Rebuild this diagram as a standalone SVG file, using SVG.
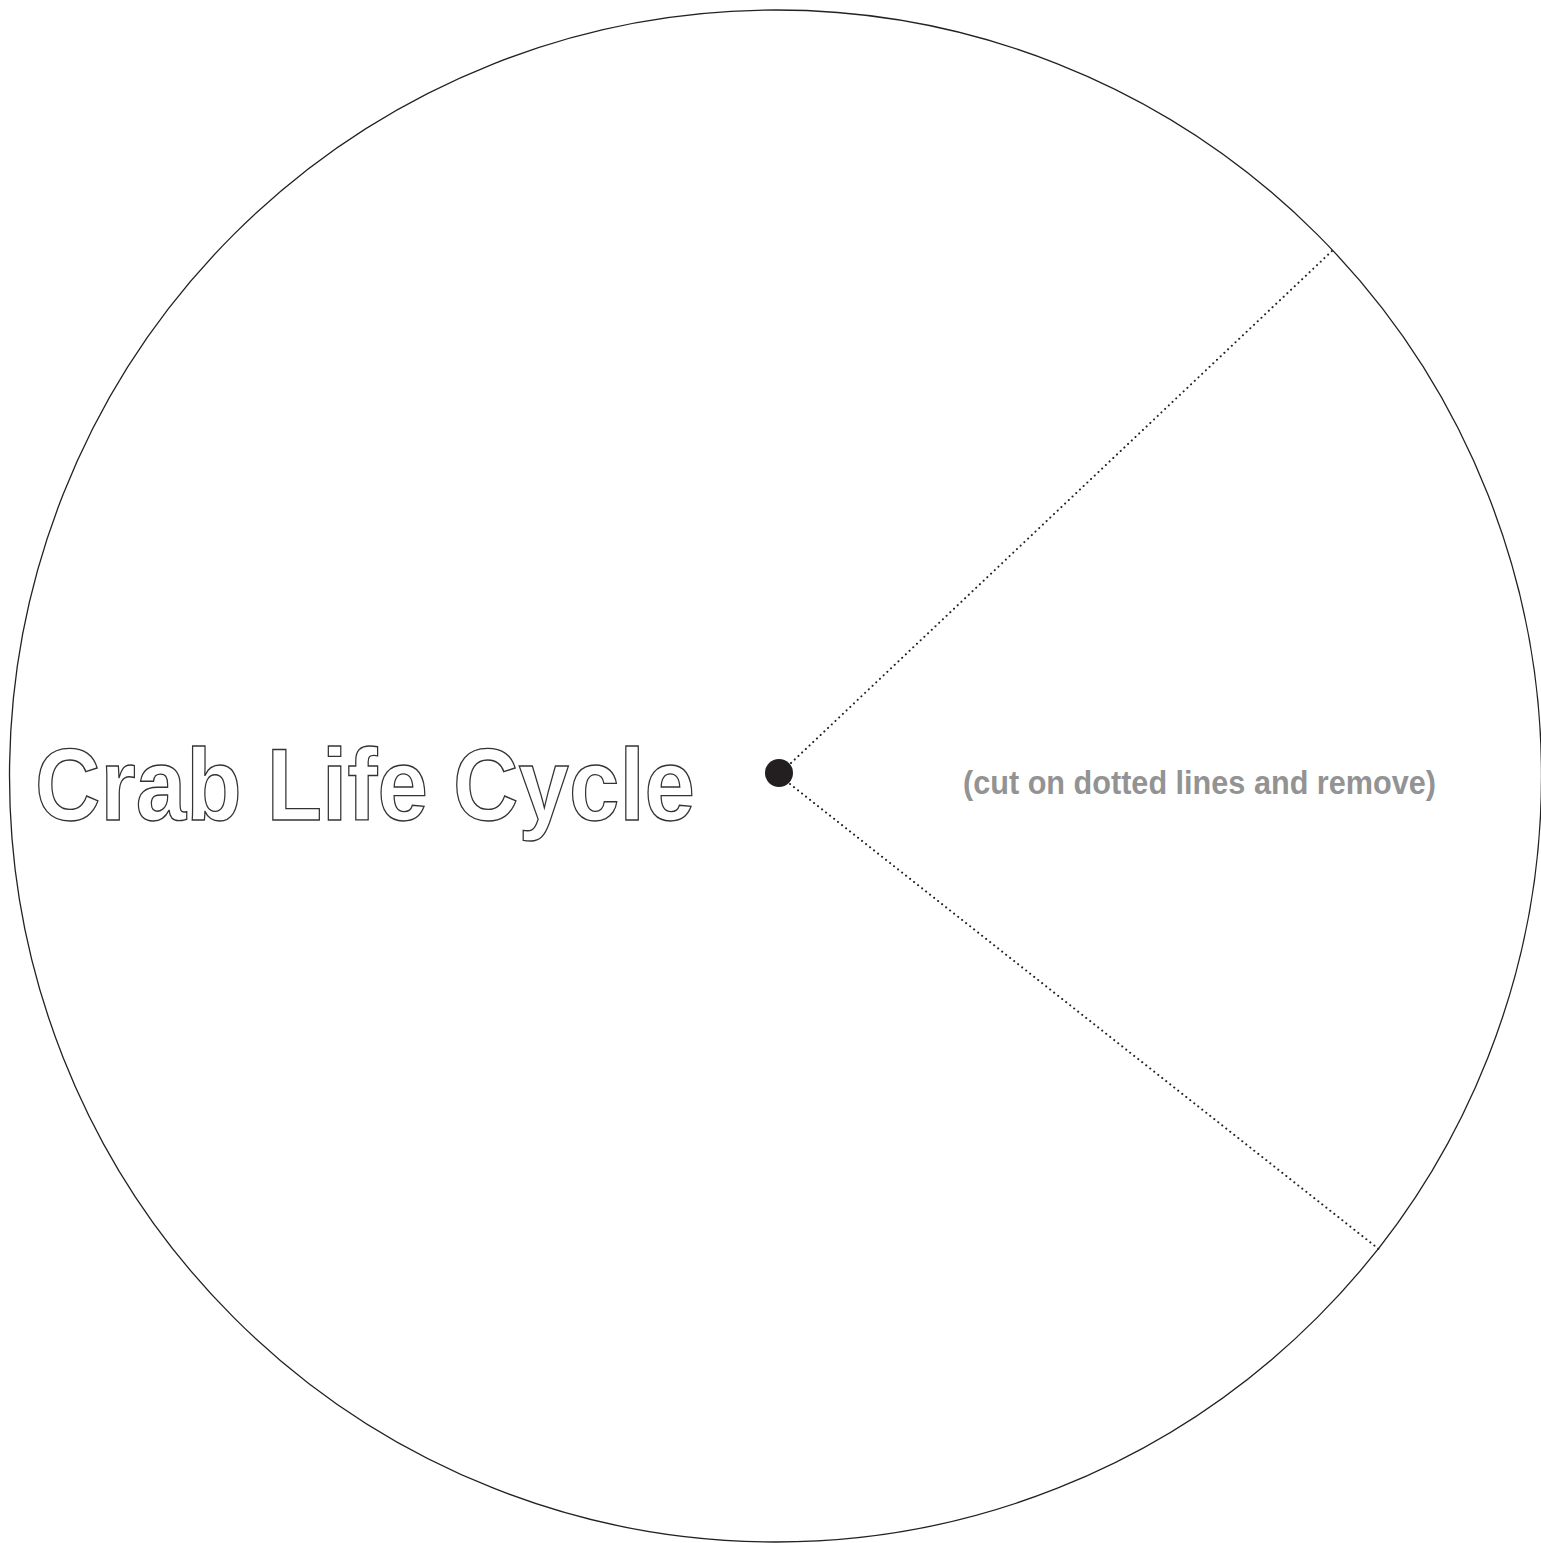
<svg xmlns="http://www.w3.org/2000/svg" width="1541" height="1543" viewBox="0 0 1541 1543">
<style>
.cut{stroke:#222;stroke-width:2;stroke-dasharray:0.1 5;stroke-linecap:round;fill:none}
.title{font-family:"Liberation Sans",Arial,sans-serif;font-size:102px;font-weight:bold;fill:#fff;stroke:#333;stroke-width:1.4}
.note{font-family:"Liberation Sans",Arial,sans-serif;font-size:34px;font-weight:bold;fill:#939393}
</style>
<rect width="1541" height="1543" fill="#fff"/>
<g id="wheel">
<circle cx="775.5" cy="776" r="766" fill="none" stroke="#222" stroke-width="1.3"/>
</g>
<g id="connectors">
<line class="cut" x1="791" y1="763" x2="1333" y2="250"/>
<line class="cut" x1="790" y1="784" x2="1380" y2="1250"/>
</g>
<g id="center">
<circle cx="779" cy="773" r="14" fill="#231f20"/>
</g>
<g id="title">
<text class="title" x="35" y="820" textLength="660" lengthAdjust="spacingAndGlyphs">Crab Life Cycle</text>
</g>
<g id="note">
<text class="note" x="963" y="794" textLength="473" lengthAdjust="spacingAndGlyphs">(cut on dotted lines and remove)</text>
</g>
</svg>
